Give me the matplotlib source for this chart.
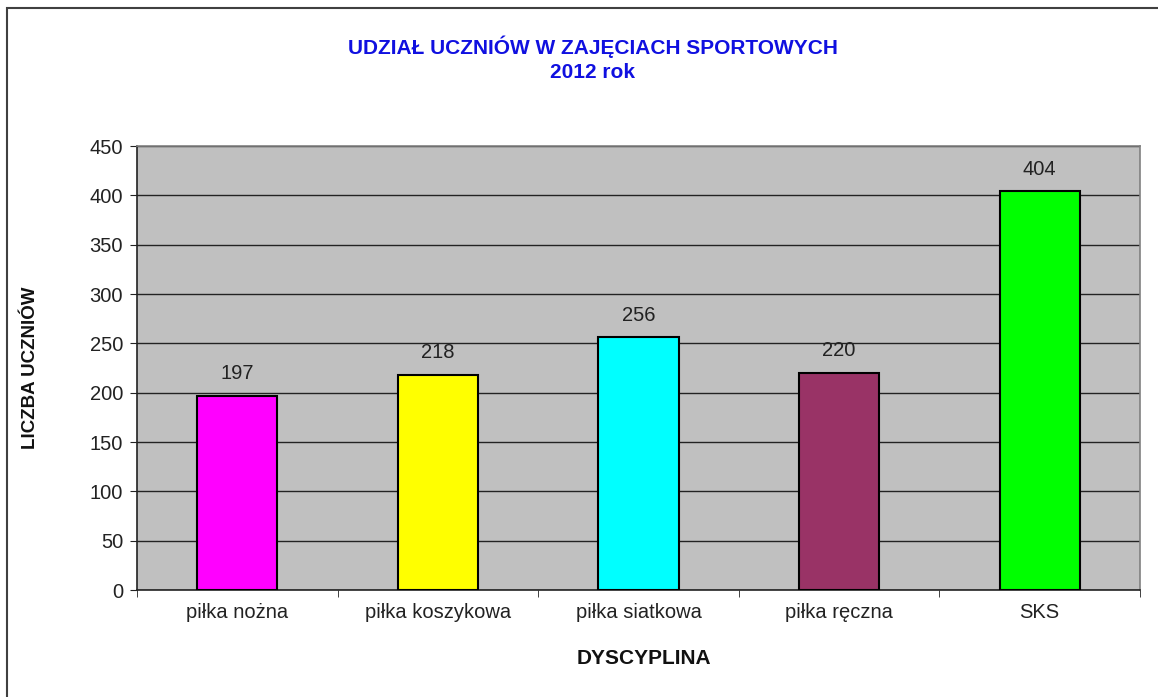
import matplotlib
matplotlib.use("Agg")
from matplotlib import pyplot as plt
from matplotlib.patches import Rectangle
import numpy as np

plt.rcParams['font.family'] = ['Liberation Sans', 'DejaVu Sans']

categories = ["piłka nożna", "piłka koszykowa", "piłka siatkowa", "piłka ręczna", "SKS"]
values = [197, 218, 256, 220, 404]
colors = ["#FF00FF", "#FFFF00", "#00FFFF", "#993366", "#00FF00"]
yticks = [0, 50, 100, 150, 200, 250, 300, 350, 400, 450]

W, H = 1158, 697
fig = plt.figure(figsize=(W / 100, H / 100), dpi=100)
fig.patch.set_facecolor("white")

# chart border (runs past right and bottom edge like the screenshot)
fig.patches.append(Rectangle((7 / W, -0.05), 1.2, 1 - 8 / H + 0.05, transform=fig.transFigure,
                             fill=False, edgecolor="#404040", linewidth=1.5))

ax = fig.add_axes([137 / W, 1 - 590 / H, (1140 - 137) / W, (590 - 146) / H])
ax.set_facecolor("#C0C0C0")

x = np.arange(len(categories))
ax.bar(x, values, width=0.4, color=colors, edgecolor="black", linewidth=1.5, zorder=3)
for xi, v in zip(x, values):
    ax.text(xi, v + 13, str(v), ha="center", va="bottom", fontsize=14.5, color="#222222", zorder=4)

ax.set_xlim(-0.5, len(categories) - 0.5)
ax.set_ylim(0, 450)
ax.set_yticks(yticks)
ax.yaxis.grid(True, color="#222222", linewidth=1.0, zorder=1)
ax.set_axisbelow(True)

ax.set_xticks(x)
ax.set_xticklabels(categories, fontsize=14.5, color="#222222")
ax.set_xticks(np.arange(len(categories) + 1) - 0.5, minor=True)
ax.tick_params(axis="x", which="major", length=0, pad=9)
ax.tick_params(axis="x", which="minor", length=5, direction="out", color="#222222")
ax.tick_params(axis="y", length=5, direction="out", color="#222222", labelsize=14.5,
               labelcolor="#222222", pad=5)

for s in ["left", "bottom"]:
    ax.spines[s].set_color("#222222")
    ax.spines[s].set_linewidth(1.2)
for s in ["top", "right"]:
    ax.spines[s].set_color("#808080")
    ax.spines[s].set_linewidth(1.2)

fig.text(593 / W, 1 - 47 / H, "UDZIAŁ UCZNIÓW W ZAJĘCIACH SPORTOWYCH", ha="center", va="center",
         fontsize=15, fontweight="bold", color="#1010E0")
fig.text(593 / W, 1 - 72 / H, "2012 rok", ha="center", va="center",
         fontsize=15, fontweight="bold", color="#1010E0")

fig.text(644 / W, 1 - 658 / H, "DYSCYPLINA", ha="center", va="center",
         fontsize=15, fontweight="bold", color="#111111")
fig.text(31 / W, 1 - 368 / H, "LICZBA UCZNIÓW", ha="center", va="center", rotation=90,
         fontsize=13.5, fontweight="bold", color="#111111")

fig.savefig("out.png", dpi=100)
